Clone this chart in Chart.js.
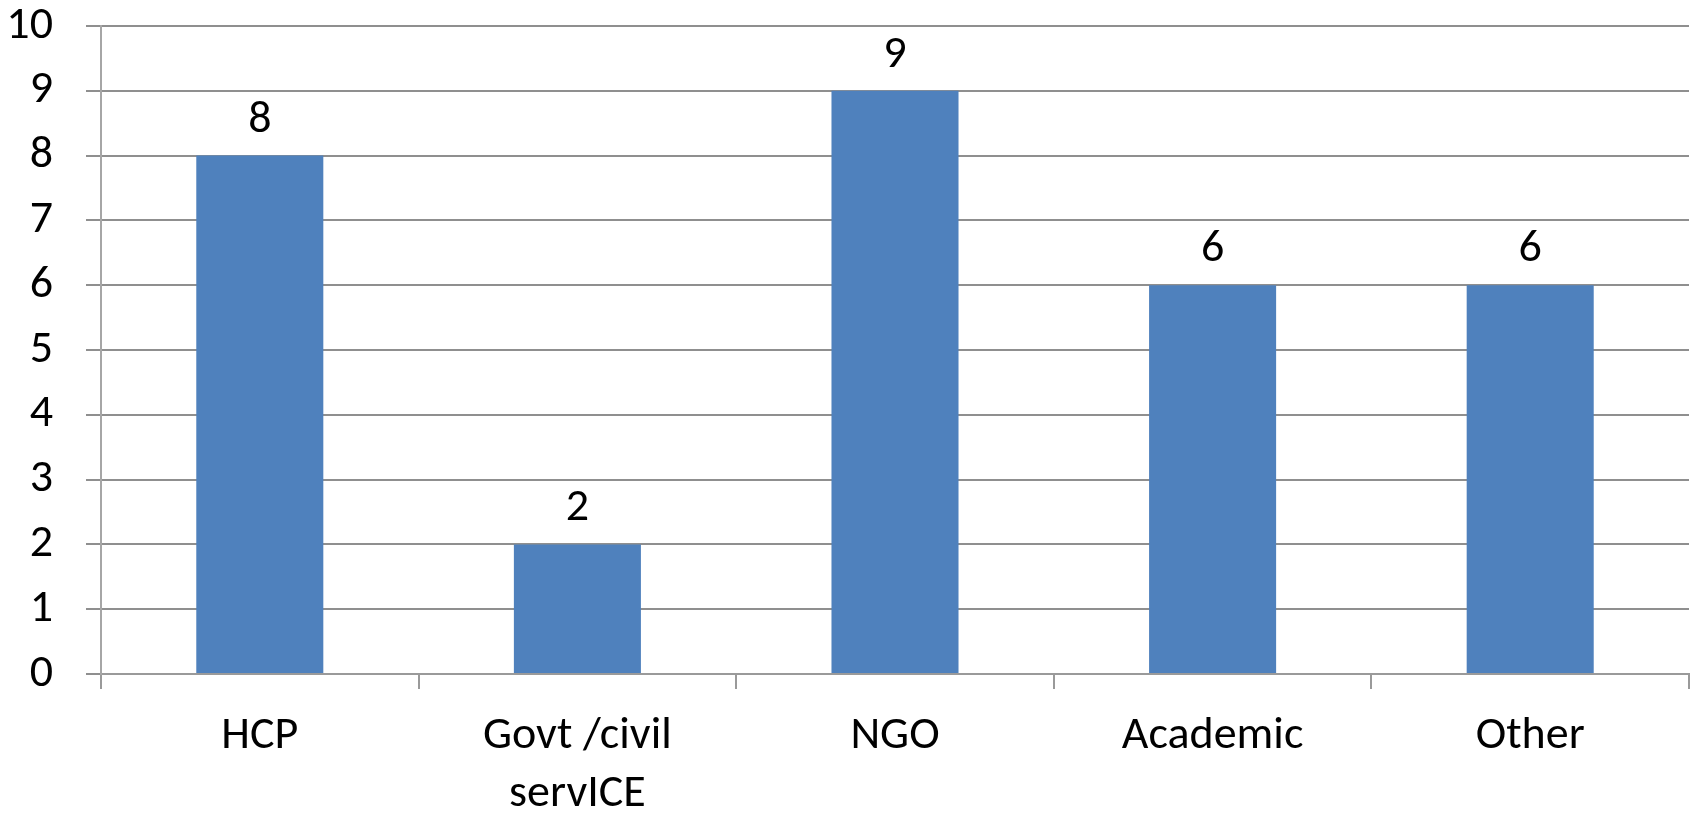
<!DOCTYPE html>
<html>
<head>
<meta charset="utf-8">
<script src="https://cdn.jsdelivr.net/npm/chart.js@4.4.1/dist/chart.umd.min.js"></script>
<style>
  html, body { margin: 0; padding: 0; background: #ffffff; overflow: hidden; }
  #wrap { width: 1694px; height: 814px; position: relative; }
</style>
</head>
<body>
<div id="wrap"><canvas id="c" width="1694" height="814"></canvas></div>
<script>
const categories = [["HCP"], ["Govt /civil", "servICE"], ["NGO"], ["Academic"], ["Other"]];
const values = [8, 2, 9, 6, 6];
const yTicks = [0, 1, 2, 3, 4, 5, 6, 7, 8, 9, 10];

const FONT = "Carlito, Calibri, Lato, 'Open Sans', sans-serif";
const FSIZE = 46;

const valueLabels = {
  id: 'valueLabels',
  afterDatasetsDraw(chart) {
    const ctx = chart.ctx;
    const meta = chart.getDatasetMeta(0);
    ctx.save();
    ctx.font = FSIZE + "px " + FONT;
    ctx.fillStyle = '#000000';
    ctx.textAlign = 'center';
    ctx.textBaseline = 'alphabetic';
    meta.data.forEach((bar, i) => {
      ctx.fillText(String(values[i]), bar.x, bar.y - 24);
    });
    ctx.restore();
  }
};

new Chart(document.getElementById('c'), {
  type: 'bar',
  data: {
    labels: categories,
    datasets: [{
      data: values,
      backgroundColor: '#4F81BD',
      borderWidth: 0,
      categoryPercentage: 1.0,
      barPercentage: 0.4
    }]
  },
  options: {
    responsive: false,
    animation: false,
    devicePixelRatio: 1,
    layout: { padding: { top: 26, right: 5, left: 0, bottom: 0 } },
    plugins: { legend: { display: false }, tooltip: { enabled: false } },
    scales: {
      x: {
        afterFit(scale) { scale.height = 140; scale.paddingLeft = 0; scale.paddingRight = 0; },
        grid: {
          offset: true,
          drawOnChartArea: false,
          drawTicks: true,
          tickLength: 15,
          color: '#9a9a9a',
          lineWidth: 2
        },
        border: { display: true, color: '#9a9a9a', width: 2 },
        ticks: {
          color: '#000000',
          font: { family: FONT, size: FSIZE, lineHeight: 1.25 },
          padding: 19,
          maxRotation: 0,
          autoSkip: false
        }
      },
      y: {
        min: 0,
        max: 10,
        afterFit(scale) { scale.width = 101; scale.paddingTop = 0; scale.paddingBottom = 0; },
        afterBuildTicks(scale) { scale.ticks = yTicks.map(v => ({ value: v })); },
        grid: {
          color: '#8f8f8f',
          lineWidth: 2,
          drawTicks: true,
          tickLength: 15
        },
        border: { display: true, color: '#a6a6a6', width: 2 },
        ticks: {
          color: '#000000',
          font: { family: FONT, size: FSIZE },
          padding: 33,
          stepSize: 1
        }
      }
    }
  },
  plugins: [valueLabels]
});
</script>
</body>
</html>
